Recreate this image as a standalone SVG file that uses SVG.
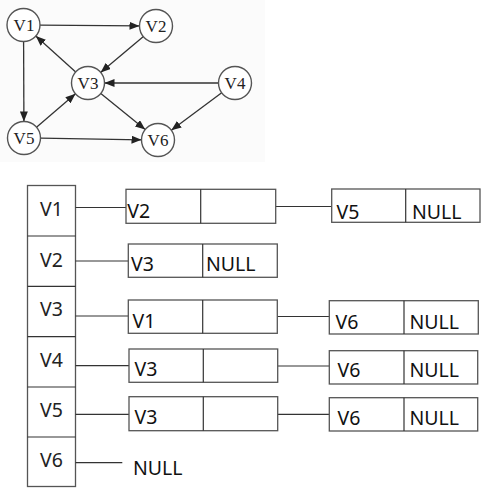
<svg xmlns="http://www.w3.org/2000/svg" width="500" height="493" viewBox="0 0 500 493">
<defs>
<marker id="ah" markerUnits="userSpaceOnUse" markerWidth="10" markerHeight="8" refX="10" refY="4" orient="auto">
<path d="M0,0 L10,4 L0,8 Z" fill="#222"/>
</marker>
<style>
.nd{fill:#fff;stroke:#555;stroke-width:1.4}
.nt{font-family:"Liberation Serif",serif;font-size:17px;fill:#222;text-anchor:middle}
.ed{stroke:#333;stroke-width:1.3;fill:none;marker-end:url(#ah)}
.bx{fill:#fff;stroke:#555;stroke-width:1.3}
.ln{stroke:#333;stroke-width:1.2;fill:none}
.t{font-family:"Noto Sans","Open Sans",sans-serif;font-size:19.5px;fill:#111}
.tc{font-family:"Noto Sans","Open Sans",sans-serif;font-size:19.5px;fill:#222;text-anchor:middle}
</style>
</defs>
<rect x="0" y="0" width="500" height="493" fill="#fff"/>
<rect x="0" y="0" width="265" height="162" fill="#fbfbfb"/>
<g id="graph-edges">
<line class="ed" x1="40" y1="25.1" x2="139.5" y2="25.9"/>
<line class="ed" x1="23.6" y1="41.5" x2="23.9" y2="121.5"/>
<line class="ed" x1="143.4" y1="36.6" x2="100.6" y2="72.4"/>
<line class="ed" x1="75.7" y1="72" x2="35.8" y2="36"/>
<line class="ed" x1="218.5" y1="83" x2="104.5" y2="83"/>
<line class="ed" x1="221.7" y1="92.8" x2="171.3" y2="130.2"/>
<line class="ed" x1="100.8" y1="93.4" x2="145.2" y2="129.6"/>
<line class="ed" x1="36.5" y1="127.2" x2="75.5" y2="93.8"/>
<line class="ed" x1="40.5" y1="138.2" x2="141.5" y2="139.8"/>
</g>
<g id="gV1"><circle class="nd" cx="23.5" cy="25" r="16.5"/><text class="nt" x="24" y="30.5">V1</text></g>
<g id="gV2"><circle class="nd" cx="156" cy="26" r="16.5"/><text class="nt" x="156" y="31.5">V2</text></g>
<g id="gV3"><circle class="nd" cx="88" cy="83" r="16.5"/><text class="nt" x="88" y="88.5">V3</text></g>
<g id="gV4"><circle class="nd" cx="235" cy="83" r="16.5"/><text class="nt" x="235" y="88.5">V4</text></g>
<g id="gV5"><circle class="nd" cx="24" cy="138" r="16.5"/><text class="nt" x="24" y="143.5">V5</text></g>
<g id="gV6"><circle class="nd" cx="158" cy="140" r="16.5"/><text class="nt" x="158" y="145.5">V6</text></g>

<g id="head-array">
<rect class="bx" x="27.5" y="185.5" width="48" height="301"/>
<line class="ln" x1="27.5" y1="236" x2="75.5" y2="236"/>
<line class="ln" x1="27.5" y1="286.3" x2="75.5" y2="286.3"/>
<line class="ln" x1="27.5" y1="336.7" x2="75.5" y2="336.7"/>
<line class="ln" x1="27.5" y1="387" x2="75.5" y2="387"/>
<line class="ln" x1="27.5" y1="437" x2="75.5" y2="437"/>
<text class="tc" x="51.5" y="216">V1</text>
<text class="tc" x="51.5" y="266.7">V2</text>
<text class="tc" x="51.5" y="315.7">V3</text>
<text class="tc" x="51.5" y="366.7">V4</text>
<text class="tc" x="51.5" y="417.3">V5</text>
<text class="tc" x="51.5" y="467.3">V6</text>
</g>

<g id="links">
<line class="ln" x1="75.5" y1="207.5" x2="128" y2="207.5"/>
<line class="ln" x1="266.7" y1="206.5" x2="333" y2="206.5"/>
<line class="ln" x1="75.5" y1="261" x2="131" y2="261"/>
<line class="ln" x1="75.5" y1="316" x2="133" y2="316"/>
<line class="ln" x1="268.3" y1="316.5" x2="336" y2="316.5"/>
<line class="ln" x1="75.5" y1="365.7" x2="135" y2="365.7"/>
<line class="ln" x1="258.3" y1="366" x2="337" y2="366"/>
<line class="ln" x1="75.5" y1="414.3" x2="135" y2="414.3"/>
<line class="ln" x1="273.3" y1="414.3" x2="333.3" y2="414.3"/>
<line class="ln" x1="75.5" y1="462.7" x2="122.3" y2="462.7"/>
</g>

<g id="n1a"><rect class="bx" x="126" y="189.3" width="149.7" height="34"/><line class="ln" x1="200.7" y1="189.3" x2="200.7" y2="223.3"/><text class="t" x="127.3" y="218.3">V2</text></g>
<g id="n1b"><rect class="bx" x="331.7" y="189" width="148.3" height="33.3"/><line class="ln" x1="405.7" y1="189" x2="405.7" y2="222.3"/><text class="t" x="336.5" y="219.3">V5</text><text class="t" x="412" y="219.3">NULL</text></g>
<g id="n2a"><rect class="bx" x="128.3" y="244" width="149" height="33.3"/><line class="ln" x1="202.7" y1="244" x2="202.7" y2="277.3"/><text class="t" x="131" y="271">V3</text><text class="t" x="206" y="271">NULL</text></g>
<g id="n3a"><rect class="bx" x="128.3" y="300" width="149" height="33.3"/><line class="ln" x1="202.7" y1="300" x2="202.7" y2="333.3"/><text class="t" x="132.5" y="328.3">V1</text></g>
<g id="n3b"><rect class="bx" x="329.3" y="300.7" width="149" height="33.3"/><line class="ln" x1="404" y1="300.7" x2="404" y2="334"/><text class="t" x="335.5" y="329">V6</text><text class="t" x="409.5" y="329">NULL</text></g>
<g id="n4a"><rect class="bx" x="129" y="349" width="148.7" height="33.3"/><line class="ln" x1="203.3" y1="349" x2="203.3" y2="382.3"/><text class="t" x="134.5" y="375.7">V3</text></g>
<g id="n4b"><rect class="bx" x="329.3" y="350.7" width="148.4" height="33.3"/><line class="ln" x1="404" y1="350.7" x2="404" y2="384"/><text class="t" x="337.5" y="376.5">V6</text><text class="t" x="409.5" y="376.5">NULL</text></g>
<g id="n5a"><rect class="bx" x="129" y="396.7" width="148.7" height="34"/><line class="ln" x1="203.3" y1="396.7" x2="203.3" y2="430.7"/><text class="t" x="134.5" y="424.3">V3</text></g>
<g id="n5b"><rect class="bx" x="329.3" y="397.7" width="148.4" height="33.3"/><line class="ln" x1="404" y1="397.7" x2="404" y2="431"/><text class="t" x="337.5" y="424.5">V6</text><text class="t" x="409.5" y="424.5">NULL</text></g>
<g id="n6"><text class="t" x="133" y="475">NULL</text></g>
</svg>
